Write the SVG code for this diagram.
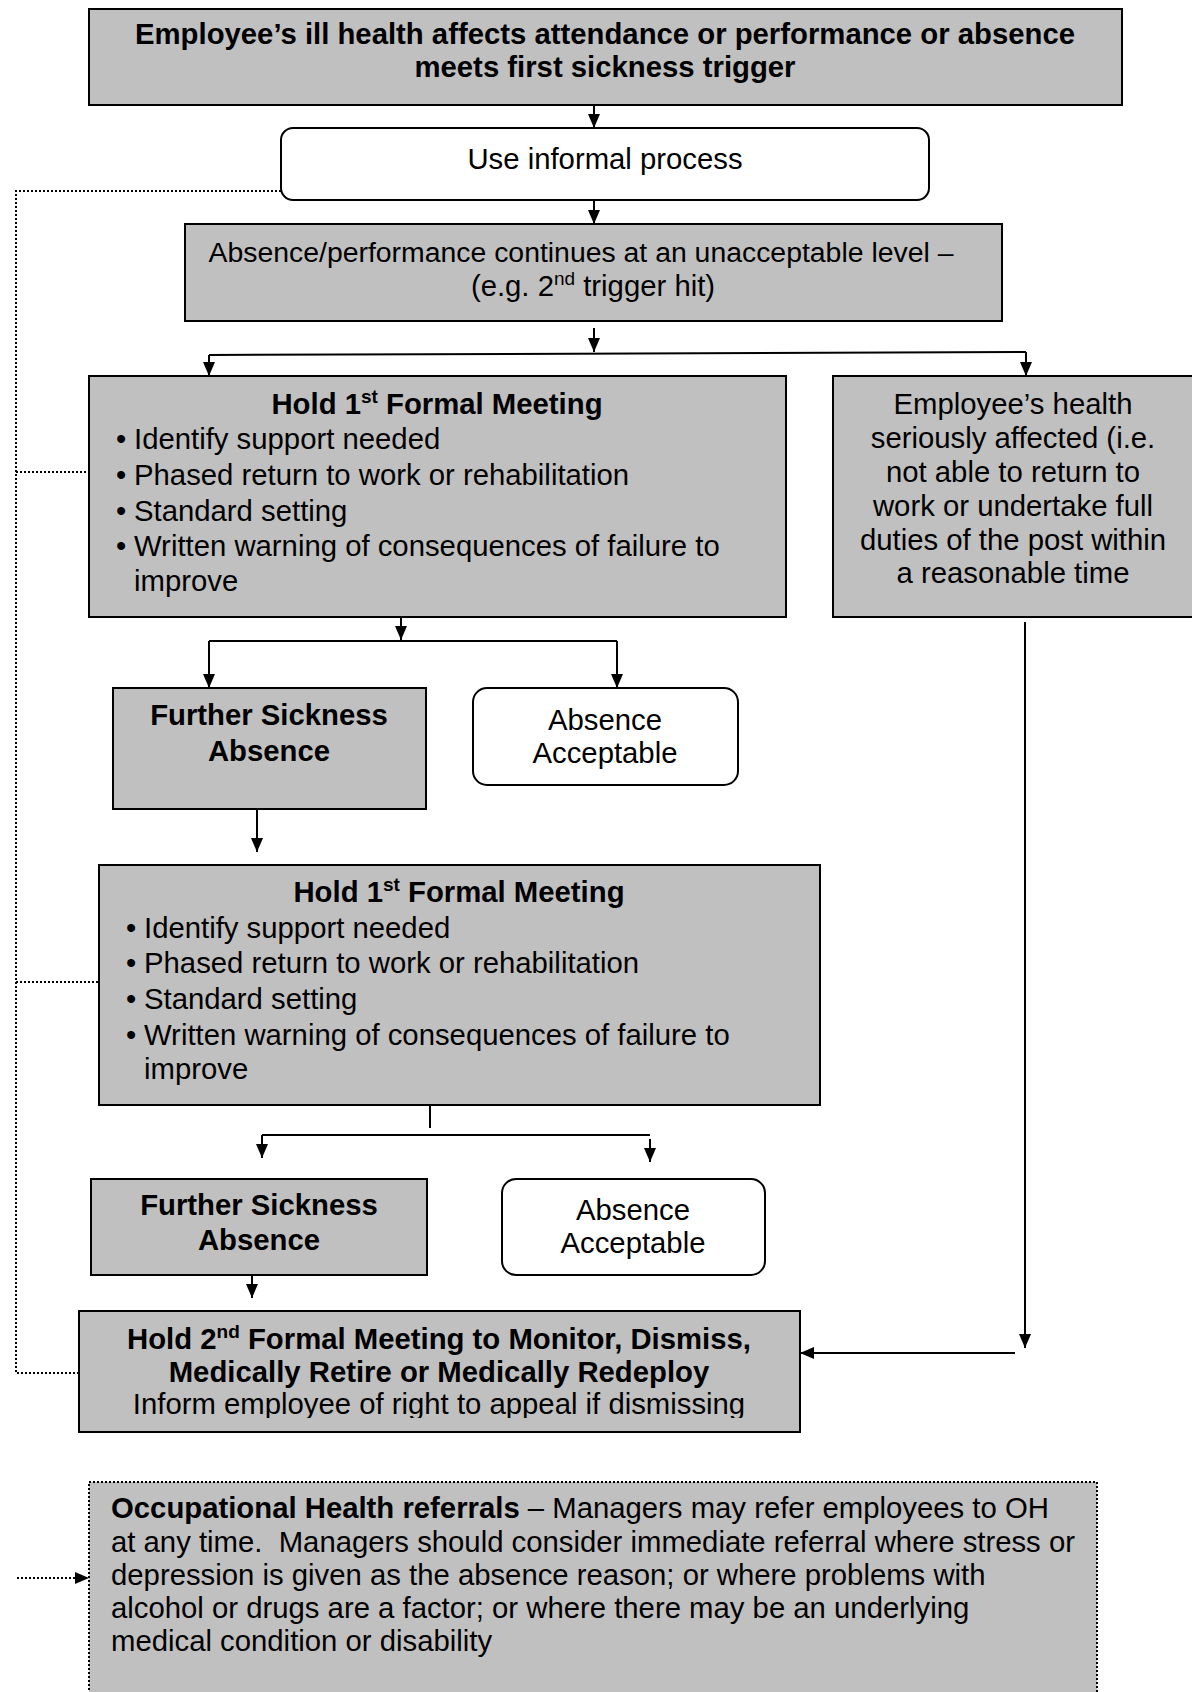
<svg xmlns="http://www.w3.org/2000/svg" width="1192" height="1692" viewBox="0 0 1192 1692">
<style>
  .t { font-family: "Liberation Sans", Arial, Helvetica, sans-serif; font-size: 29.3px; fill: #000; }
  .b { font-weight: bold; }
  .c { text-anchor: middle; }
  .box { fill: #c0c0c0; stroke: #000; stroke-width: 2; }
  .wbox { fill: #fff; stroke: #000; stroke-width: 2; }
  .ln { fill: none; stroke: #000; stroke-width: 2; }
  .dot { fill: none; stroke: #000; stroke-width: 2; stroke-dasharray: 2 2; }
</style>
<defs>
  <marker id="arr" viewBox="0 0 14 12" refX="14" refY="6" markerWidth="14" markerHeight="12" markerUnits="userSpaceOnUse" orient="auto">
    <path d="M0,0 L14,6 L0,12 z" fill="#000" stroke="none"/>
  </marker>
  <clipPath id="clipInform">
    <rect x="79" y="1311" width="721" height="107"/>
  </clipPath>
</defs>
<rect x="0" y="0" width="1192" height="1692" fill="#fff"/>

<g id="connectors">
  <path class="ln" d="M594,105 V128" marker-end="url(#arr)"/>
  <path class="ln" d="M594,200 V224" marker-end="url(#arr)"/>
  <path class="ln" d="M594,328 V352" marker-end="url(#arr)"/>
  <path class="ln" d="M209,355 L1026,352"/>
  <path class="ln" d="M209,355 V376" marker-end="url(#arr)"/>
  <path class="ln" d="M1026,352 V376" marker-end="url(#arr)"/>
  <path class="ln" d="M401,617 V640" marker-end="url(#arr)"/>
  <path class="ln" d="M209,641 H617"/>
  <path class="ln" d="M209,641 V688" marker-end="url(#arr)"/>
  <path class="ln" d="M617,641 V688" marker-end="url(#arr)"/>
  <path class="ln" d="M257,809 V852" marker-end="url(#arr)"/>
  <path class="ln" d="M430,1105 V1128"/>
  <path class="ln" d="M262,1135 H650"/>
  <path class="ln" d="M262,1135 V1158" marker-end="url(#arr)"/>
  <path class="ln" d="M650,1139 V1162" marker-end="url(#arr)"/>
  <path class="ln" d="M252,1275 V1298" marker-end="url(#arr)"/>
  <path class="ln" d="M1025,622 V1348" marker-end="url(#arr)"/>
  <path class="ln" d="M1015,1353 H800" marker-end="url(#arr)"/>
  <path class="dot" d="M281,191 H16 V1373 H79"/>
  <path class="dot" d="M16,472 H89"/>
  <path class="dot" d="M16,982 H99"/>
  <path class="dot" d="M17,1578 H89" marker-end="url(#arr)"/>
</g>

<g id="trigger">
  <rect class="box" x="89" y="9" width="1033" height="96"/>
  <text class="t b c" x="605" y="44">Employee’s ill health affects attendance or performance or absence</text>
  <text class="t b c" x="605" y="77">meets first sickness trigger</text>
</g>

<g id="informal">
  <rect class="wbox" x="281" y="128" width="648" height="72" rx="12"/>
  <text class="t c" x="605" y="169">Use informal process</text>
</g>

<g id="continues">
  <rect class="box" x="185" y="224" width="817" height="97"/>
  <text class="t c" x="581" y="262" style="font-size:28.4px">Absence/performance continues at an unacceptable level –</text>
  <text class="t c" x="593" y="296">(e.g. 2<tspan font-size="19" dy="-11">nd</tspan><tspan dy="11"> trigger hit)</tspan></text>
</g>

<g id="formal1a">
  <rect class="box" x="89" y="376" width="697" height="241"/>
  <text class="t b c" x="437" y="414">Hold 1<tspan font-size="19" dy="-11">st</tspan><tspan dy="11"> Formal Meeting</tspan></text>
  <text class="t" x="116" y="449">•</text><text class="t" x="134" y="449">Identify support needed</text>
  <text class="t" x="116" y="485">•</text><text class="t" x="134" y="485">Phased return to work or rehabilitation</text>
  <text class="t" x="116" y="521">•</text><text class="t" x="134" y="521">Standard setting</text>
  <text class="t" x="116" y="556">•</text><text class="t" x="134" y="556">Written warning of consequences of failure to</text>
  <text class="t" x="134" y="591">improve</text>
</g>

<g id="serious">
  <rect class="box" x="833" y="376" width="366" height="241"/>
  <text class="t c" x="1013" y="414">Employee’s health</text>
  <text class="t c" x="1013" y="448">seriously affected (i.e.</text>
  <text class="t c" x="1013" y="482">not able to return to</text>
  <text class="t c" x="1013" y="516">work or undertake full</text>
  <text class="t c" x="1013" y="550">duties of the post within</text>
  <text class="t c" x="1013" y="583">a reasonable time</text>
</g>

<g id="further1">
  <rect class="box" x="113" y="688" width="313" height="121"/>
  <text class="t b c" x="269" y="725">Further Sickness</text>
  <text class="t b c" x="269" y="761">Absence</text>
</g>

<g id="acceptable1">
  <rect class="wbox" x="473" y="688" width="265" height="97" rx="14"/>
  <text class="t c" x="605" y="730">Absence</text>
  <text class="t c" x="605" y="763">Acceptable</text>
</g>

<g id="formal1b">
  <rect class="box" x="99" y="865" width="721" height="240"/>
  <text class="t b c" x="459" y="902">Hold 1<tspan font-size="19" dy="-11">st</tspan><tspan dy="11"> Formal Meeting</tspan></text>
  <text class="t" x="126" y="938">•</text><text class="t" x="144" y="938">Identify support needed</text>
  <text class="t" x="126" y="973">•</text><text class="t" x="144" y="973">Phased return to work or rehabilitation</text>
  <text class="t" x="126" y="1009">•</text><text class="t" x="144" y="1009">Standard setting</text>
  <text class="t" x="126" y="1045">•</text><text class="t" x="144" y="1045">Written warning of consequences of failure to</text>
  <text class="t" x="144" y="1079">improve</text>
</g>

<g id="further2">
  <rect class="box" x="91" y="1179" width="336" height="96"/>
  <text class="t b c" x="259" y="1215">Further Sickness</text>
  <text class="t b c" x="259" y="1250">Absence</text>
</g>

<g id="acceptable2">
  <rect class="wbox" x="502" y="1179" width="263" height="96" rx="14"/>
  <text class="t c" x="633" y="1220">Absence</text>
  <text class="t c" x="633" y="1253">Acceptable</text>
</g>

<g id="formal2">
  <rect class="box" x="79" y="1311" width="721" height="121"/>
  <text class="t b c" x="439" y="1349">Hold 2<tspan font-size="19" dy="-11">nd</tspan><tspan dy="11"> Formal Meeting to Monitor, Dismiss,</tspan></text>
  <text class="t b c" x="439" y="1382">Medically Retire or Medically Redeploy</text>
  <text class="t c" x="439" y="1414" clip-path="url(#clipInform)">Inform employee of right to appeal if dismissing</text>
</g>

<g id="oh">
  <rect class="dot" x="89" y="1482" width="1008" height="240" style="fill:#c0c0c0"/>
  <text class="t" x="111" y="1518"><tspan class="b">Occupational Health referrals</tspan> – Managers may refer employees to OH</text>
  <text class="t" x="111" y="1552">at any time.&#160; Managers should consider immediate referral where stress or</text>
  <text class="t" x="111" y="1585">depression is given as the absence reason; or where problems with</text>
  <text class="t" x="111" y="1618">alcohol or drugs are a factor; or where there may be an underlying</text>
  <text class="t" x="111" y="1651">medical condition or disability</text>
</g>
</svg>
